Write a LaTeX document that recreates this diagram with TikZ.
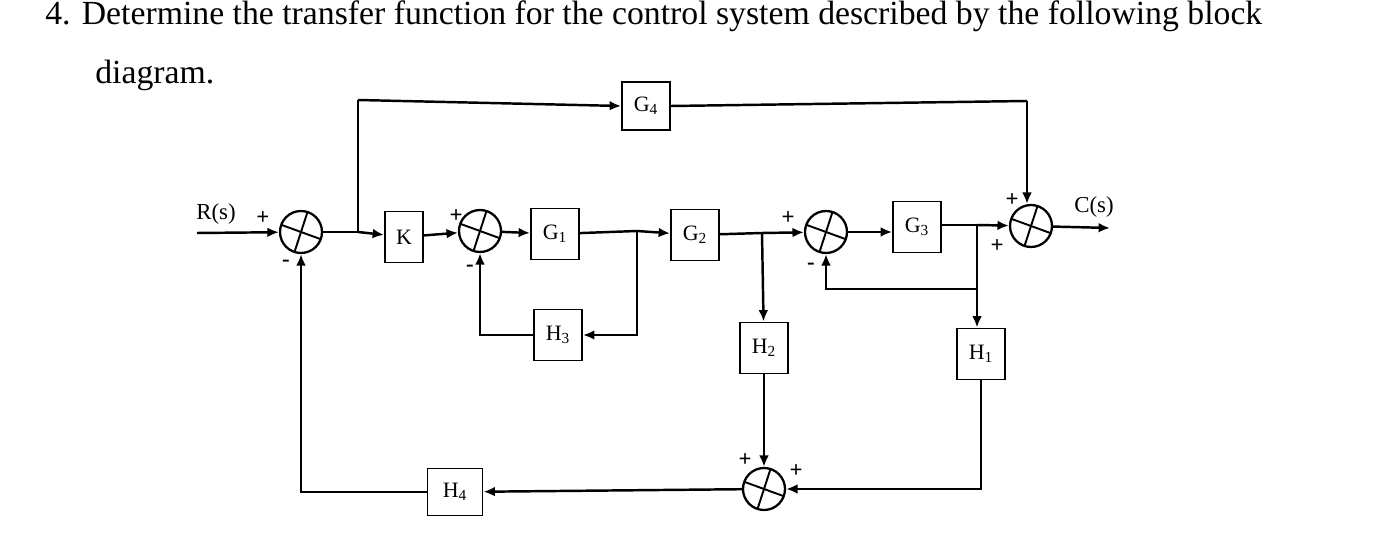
\documentclass[tikz,border=0pt]{standalone}
\usepackage{fontspec}
\setmainfont{Liberation Serif}
\usetikzlibrary{calc}
\usetikzlibrary{arrows.meta}
\usetikzlibrary{positioning}
\tikzset{blk/.style={draw=black,line width=1.1pt,minimum width=0.96cm,minimum height=1.02cm,inner sep=0pt,font=\fontsize{12.5}{14}\selectfont}}
\tikzset{sumj/.style={circle,draw=black,line width=1.3pt,minimum size=0.84cm,inner sep=0pt,
  path picture={
    \draw[line width=1.1pt] ($(path picture bounding box.center)+(160:0.42cm)$) -- ($(path picture bounding box.center)+(-20:0.42cm)$);
    \draw[line width=1.1pt] ($(path picture bounding box.center)+(72:0.42cm)$) -- ($(path picture bounding box.center)+(252:0.42cm)$);
  }}}
\tikzset{sig/.style={inner sep=0pt,font=\fontsize{13}{14}\selectfont\bfseries}}
\tikzset{wire/.style={line width=1.4pt}}
\tikzset{arr/.style={wire,-{Latex[length=6.5pt,width=5.5pt]}}}

\begin{document}
\begin{tikzpicture}[x=0.02cm,y=-0.02cm]
\useasboundingbox (0,0) rectangle (1398,536);

\node[anchor=base west,inner sep=0pt,font=\fontsize{19.2}{22}\selectfont] (title) at (45,25)
  {4. Determine the transfer function for the control system described by the following block};
\node[anchor=base west,inner sep=0pt,font=\fontsize{19.2}{22}\selectfont] (title2) at (95,84) {diagram.};

% forward path
\node[sumj] (s1) at (301,232) {};
\node[blk,minimum width=0.76cm] (K) at (404,237) {K};
\node[sumj] (s2) at (480,231) {};
\node[blk] (G1) at (555,234) {G\textsubscript{1}};
\node[blk] (G2) at (695,235) {G\textsubscript{2}};
\node[sumj] (s3) at (826,232) {};
\node[blk] (G3) at (917,227) {G\textsubscript{3}};
\node[sumj] (s4) at (1031,226) {};
\node[blk,minimum height=0.96cm] (G4) at (646,106) {G\textsubscript{4}};

% feedback blocks
\node[blk] (H3) at (558,335) {H\textsubscript{3}};
\node[blk] (H2) at (764,348) {H\textsubscript{2}};
\node[blk] (H1) at (981,354) {H\textsubscript{1}};
\node[sumj] (s5) at (764,489) {};
\node[blk,minimum width=1.1cm,minimum height=0.94cm] (H4) at (455,492) {H\textsubscript{4}};

% branch points
\coordinate (rin) at (197,233);
\coordinate (b1) at (358,232);
\coordinate (c1) at (358,100);
\coordinate (c2) at (1027,101);
\coordinate (b2) at (637,231);
\coordinate (b3) at (762,233);
\coordinate (b4) at (977,225);
\coordinate (b5) at (977,289);
\coordinate (cout) at (1110,228);

% labels
\node[sig,font=\fontsize{13}{14}\selectfont] (rlab) at (216,214) {R(s)};
\node[sig,font=\fontsize{13}{14}\selectfont] (clab) at (1094,207) {C(s)};
\node[sig] (p1) at (263,218) {+};
\node[sig] (m1) at (286,263) {-};
\node[sig] (p2) at (456,216) {+};
\node[sig] (m2) at (470,268) {-};
\node[sig] (p3) at (788,218) {+};
\node[sig] (m3) at (811,266) {-};
\node[sig] (p4) at (1012,200) {+};
\node[sig] (p5) at (997,246) {+};
\node[sig] (p6) at (745,460) {+};
\node[sig] (p7) at (796,471) {+};

% connectors
\draw[arr] (rin) -- (s1);
\draw[wire] (s1) -- (b1);
\draw[arr] (b1) -- (K);
\draw[wire] (b1) -- (c1);
\draw[arr] (c1) -- (G4.west);
\draw[wire] (G4.east) -- (c2);
\draw[arr] (c2) -- (c2 |- s4.north);
\draw[arr] (K) -- (s2);
\draw[arr] (s2) -- (G1);
\draw[wire] (G1) -- (b2);
\draw[arr] (b2) -- (G2);
\draw[arr] (b2) |- (H3);
\draw[arr] (H3) -| (s2);
\draw[wire] (G2) -- (b3);
\draw[arr] (b3) -- (s3);
\draw[arr] (b3) -- (H2);
\draw[arr] (s3) -- (s3 -| G3.west);
\draw[wire] (G3.east |- b4) -- (b4);
\draw[arr] (b4) -- (s4);
\draw[arr] (b4) -- (b4 |- H1.north);
\draw[arr] (b5) -| (s3);
\draw[arr] (s4) -- (cout);
\draw[arr] (H2) -- (s5);
\draw[arr] (H1) |- (s5);
\draw[arr] (s5) -- (H4);
\draw[arr] (H4) -| (s1);

\end{tikzpicture}
\end{document}
